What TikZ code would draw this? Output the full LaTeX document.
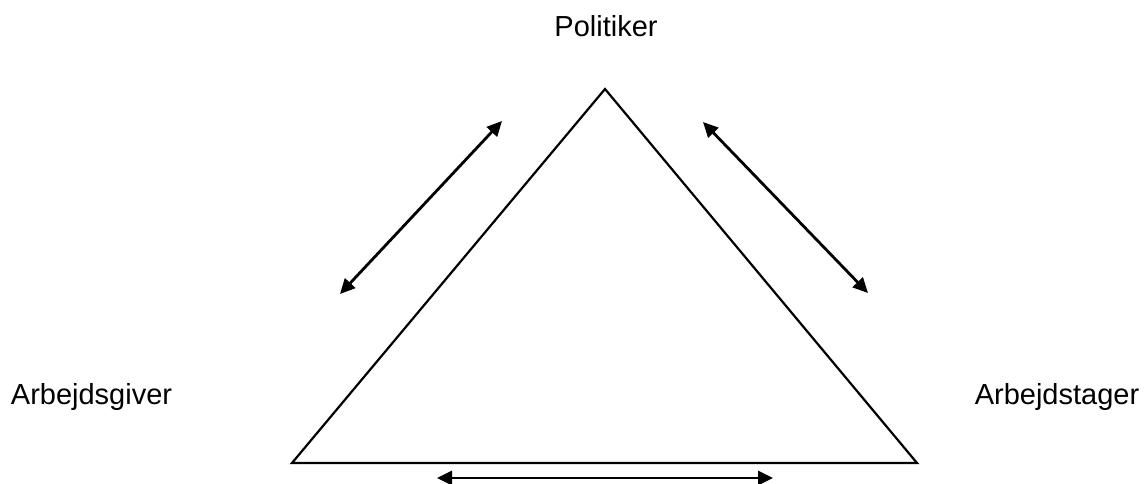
\documentclass[tikz,border=0pt]{standalone}
\usepackage{fontspec}
\setmainfont{Liberation Sans}
\usetikzlibrary{arrows.meta}
\tikzset{
  lbl/.style={anchor=base, inner sep=0pt, font=\fontsize{29}{34}\selectfont},
  edge/.style={line width=2.2pt, line join=miter},
  rel/.style={line width=2.8pt, {Triangle[length=15pt,width=14pt]}-{Triangle[length=15pt,width=14pt]}}
}
\begin{document}
\begin{tikzpicture}[x=1pt,y=-1pt]
\useasboundingbox (0,0) rectangle (1144,484);
\coordinate (top) at (605,89);
\coordinate (bl) at (292,463);
\coordinate (br) at (917,463);
\draw[edge] (top) -- (bl) -- (br) -- cycle;
\node[lbl] (pol) at (606,37) {Politiker};
\node[lbl] (ag) at (91.5,404) {Arbejdsgiver};
\node[lbl] (at) at (1057,404) {Arbejdstager};
\coordinate (a1) at (340,294);
\coordinate (a2) at (502,121);
\coordinate (b1) at (703,122);
\coordinate (b2) at (868,293);
\coordinate (c1) at (437,478);
\coordinate (c2) at (773,478);
\draw[rel] (a1) -- (a2);
\draw[rel] (b1) -- (b2);
\draw[rel] (c1) -- (c2);
\end{tikzpicture}
\end{document}
